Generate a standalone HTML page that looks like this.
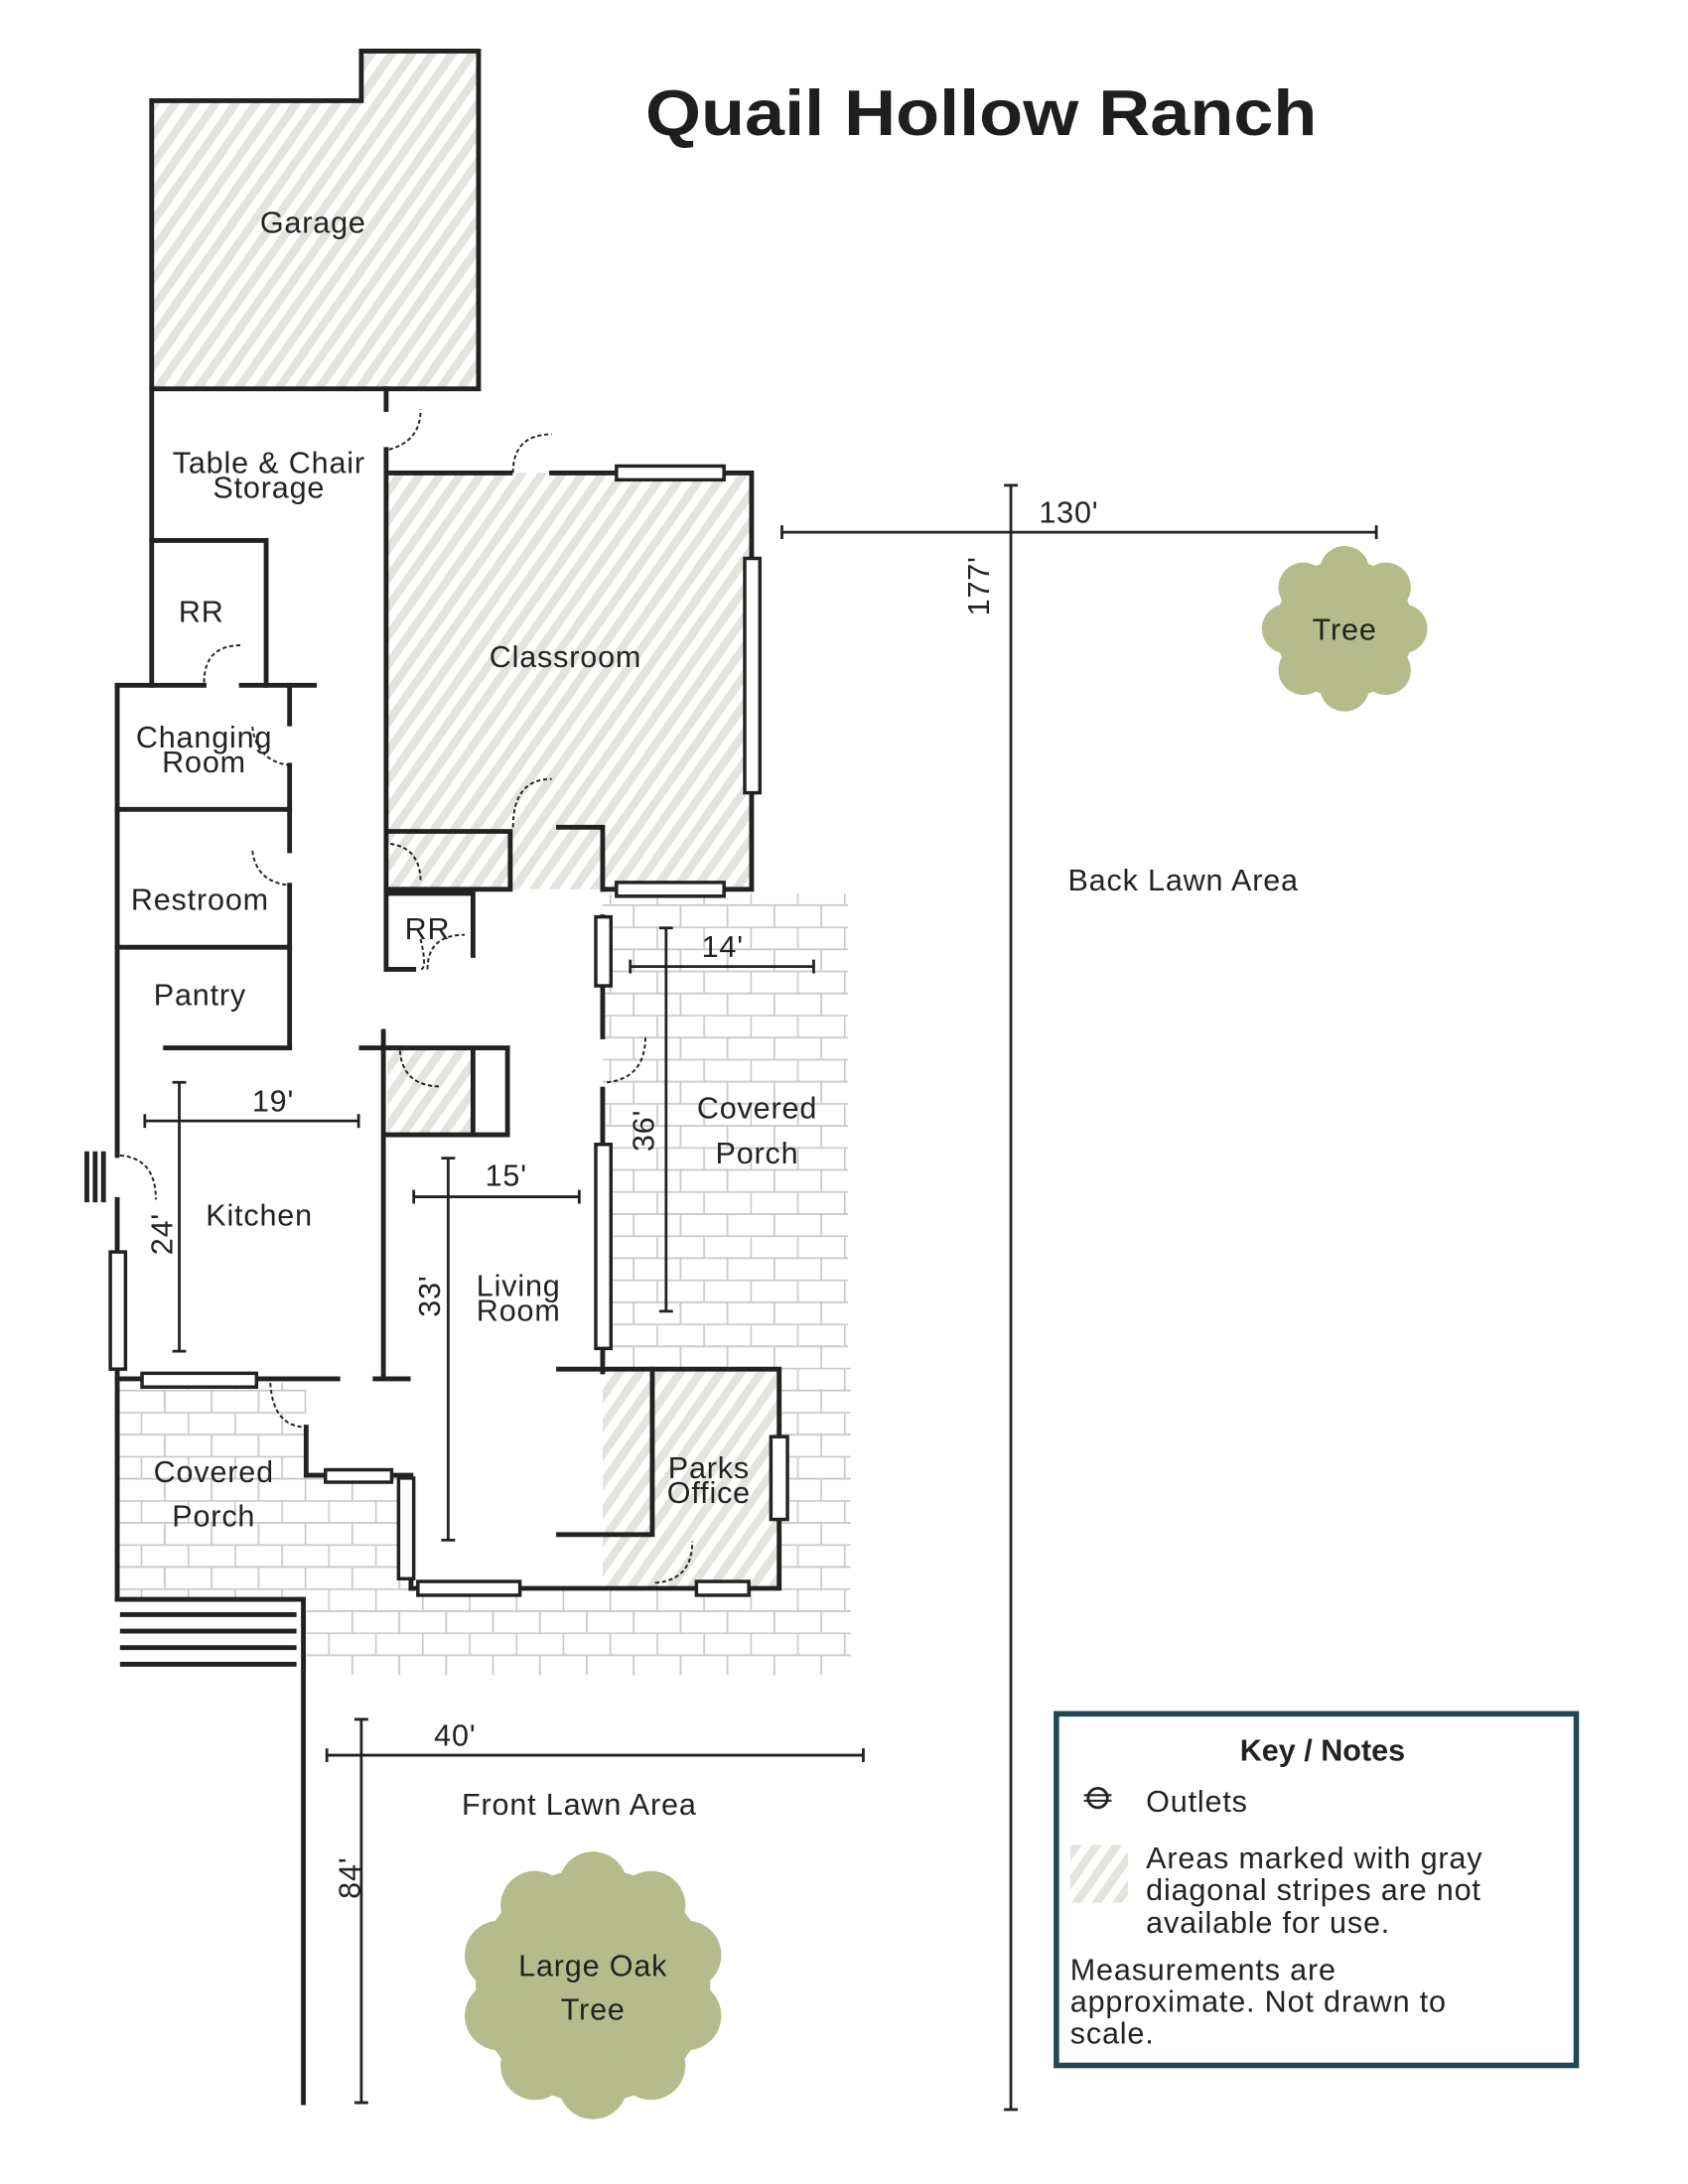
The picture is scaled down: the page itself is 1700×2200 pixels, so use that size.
<!DOCTYPE html>
<html><head><meta charset="utf-8"><style>
html,body{margin:0;padding:0;background:#fff}
svg{display:block}
text{font-family:"Liberation Sans",sans-serif;fill:#222}
</style></head><body>
<svg width="1700" height="2200" viewBox="0 0 1224 1584" xmlns="http://www.w3.org/2000/svg">
<defs>
<pattern id="h" width="12" height="12" patternUnits="userSpaceOnUse" patternTransform="rotate(35)">
<rect width="12" height="12" fill="#fff"/><rect width="6" height="12" fill="#e2e5de"/></pattern>
<pattern id="b" width="34" height="32" patternUnits="userSpaceOnUse">
<rect width="34" height="32" fill="#fff"/>
<path d="M0 0.5H34M0 16.5H34M0.5 0V16M17.5 16V32" stroke="#c9c9c9" stroke-width="1.3" fill="none"/></pattern>
</defs>

<g fill="url(#b)">
<rect x="437" y="648" width="178" height="345"/>
<rect x="565" y="990" width="52" height="225"/>
<rect x="222" y="1152" width="395" height="63"/>
<rect x="85" y="1003" width="137" height="157"/>
<rect x="222" y="1072" width="76" height="80"/>
</g>

<g fill="url(#h)">
<path d="M110 73H262V37H347V282H110Z"/>
<rect x="281" y="343" width="264" height="302"/>
<rect x="281" y="760" width="62" height="63"/>
<rect x="437" y="993" width="128" height="159"/>
<rect x="776" y="1338" width="42" height="42"/>
</g>
<rect x="405" y="603" width="32" height="42" fill="url(#h)"/>

<g stroke="#222" stroke-width="3.5" fill="none" stroke-linecap="square">
<path d="M110 73H262V37H347V282H110Z"/>
<path d="M110 282V497"/>
<path d="M280 282V297M280 326V703"/>
<path d="M281 343H370M400 343H545V645H437"/>
<path d="M281 603H370V645H281"/>
<path d="M405 600H437V645"/>
<path d="M281 648H343V693M281 703H300"/>
<path d="M110 392H193V497"/>
<path d="M85 497H148M175 497H228"/>
<path d="M85 497V838M85 870V1160"/>
<path d="M210 497V525M210 555V617M210 642V760"/>
<path d="M85 587H210M85 687H210M120 760H210"/>
<path d="M262 760H290M278 748V1000M272 1000H296M85 1000H245"/>
<path d="M281 760H368V823H281M343 760V823"/>
<path d="M437 665V752M437 790V995"/>
<path d="M405 993H565V1152H298"/>
<path d="M473 993V1113H405"/>
<path d="M222 1035V1070H298V1152"/>
<path d="M85 1160H218"/>
<path d="M220 1160V1525"/>
</g>
<g stroke="#222" stroke-width="3.5">
<path d="M87 1171H215M87 1183H215M87 1195H215M87 1207H215"/>
<path d="M63 835V872M69 835V872M75 835V872"/>
</g>

<g stroke="#222" stroke-width="2.5" fill="#fff">
<rect x="447" y="338" width="78" height="10"/>
<rect x="540" y="405" width="11" height="170"/>
<rect x="447" y="640" width="78" height="10"/>
<rect x="432" y="665" width="11" height="50"/>
<rect x="432" y="830" width="11" height="148"/>
<rect x="80" y="908" width="11" height="85"/>
<rect x="103" y="996" width="83" height="10"/>
<rect x="236" y="1066" width="48" height="9"/>
<rect x="289" y="1072" width="11" height="73"/>
<rect x="303" y="1147" width="74" height="10"/>
<rect x="505" y="1147" width="38" height="10"/>
<rect x="559" y="1042" width="12" height="60"/>
</g>

<g stroke="#222" stroke-width="1.4" fill="none" stroke-dasharray="3 2">
<path d="M282 326Q305 320 305 297"/>
<path d="M372 343Q372 315 400 315"/>
<path d="M372 600Q372 565 400 565"/>
<path d="M283 612Q305 615 305 640"/>
<path d="M148 495Q148 468 175 468"/>
<path d="M183 527Q186 552 210 555"/>
<path d="M183 617Q186 640 210 642"/>
<path d="M305 681Q310 703 305 703"/>
<path d="M310 703Q310 678 337 678"/>
<path d="M290 762Q292 788 320 788"/>
<path d="M440 785Q468 782 468 752"/>
<path d="M87 838Q113 840 113 870"/>
<path d="M196 1003Q198 1035 222 1035"/>
<path d="M475 1148Q502 1146 502 1118"/>
</g>

<g stroke="#222" stroke-width="2" fill="none">
<path d="M567 386H998M567 381V391M998 381V391"/>
<path d="M733 352V1530M728 352H738M728 1530H738"/>
<path d="M483 673V951M478 673H488M478 951H488"/>
<path d="M457 701H590M457 696V706M590 696V706"/>
<path d="M105 813H260M105 808V818M260 808V818"/>
<path d="M130 785V980M125 785H135M125 980H135"/>
<path d="M300 868H420M300 863V873M420 863V873"/>
<path d="M325 840V1117M320 840H330M320 1117H330"/>
<path d="M237 1273H626M237 1268V1278M626 1268V1278"/>
<path d="M262 1247V1525M257 1247H267M257 1525H267"/>
</g>

<g fill="#b5bb8a">
<circle cx="975" cy="456" r="50"/>
<g transform="translate(975 456)">
<circle cx="0" cy="-42" r="18"/><circle cx="30" cy="-30" r="18"/><circle cx="42" cy="0" r="18"/><circle cx="30" cy="30" r="18"/><circle cx="0" cy="42" r="18"/><circle cx="-30" cy="30" r="18"/><circle cx="-42" cy="0" r="18"/><circle cx="-30" cy="-30" r="18"/>
</g>
<circle cx="430" cy="1440" r="85"/>
<g transform="translate(430 1440)">
<circle cx="0" cy="-72" r="25"/><circle cx="42" cy="-58" r="25"/><circle cx="68" cy="-22" r="25"/><circle cx="68" cy="22" r="25"/><circle cx="42" cy="58" r="25"/><circle cx="0" cy="72" r="25"/><circle cx="-42" cy="58" r="25"/><circle cx="-68" cy="22" r="25"/><circle cx="-68" cy="-22" r="25"/><circle cx="-42" cy="-58" r="25"/>
</g>
</g>

<text x="468" y="98" textLength="487" lengthAdjust="spacingAndGlyphs" font-size="47" font-weight="bold" style="fill:#1e1e1e">Quail Hollow Ranch</text>
<g font-size="22" text-anchor="middle" letter-spacing="0.6">
<text x="227" y="169">Garage</text>
<text x="195" y="343">Table &amp; Chair</text>
<text x="195" y="361">Storage</text>
<text x="146" y="451">RR</text>
<text x="410" y="484">Classroom</text>
<text x="148" y="542">Changing</text>
<text x="148" y="560">Room</text>
<text x="145" y="660">Restroom</text>
<text x="145" y="729">Pantry</text>
<text x="310" y="681">RR</text>
<text x="549" y="811">Covered</text>
<text x="549" y="844">Porch</text>
<text x="188" y="889">Kitchen</text>
<text x="376" y="940">Living</text>
<text x="376" y="958">Room</text>
<text x="514" y="1072">Parks</text>
<text x="514" y="1090">Office</text>
<text x="155" y="1075">Covered</text>
<text x="155" y="1107">Porch</text>
<text x="858" y="646">Back Lawn Area</text>
<text x="420" y="1316">Front Lawn Area</text>
<text x="975" y="464">Tree</text>
<text x="430" y="1433">Large Oak</text>
<text x="430" y="1465">Tree</text>
<text x="775" y="379">130'</text>
<text x="524" y="694">14'</text>
<text x="198" y="806">19'</text>
<text x="367" y="860">15'</text>
<text x="330" y="1266">40'</text>
<text transform="translate(717 425) rotate(-90)">177'</text>
<text transform="translate(474 820) rotate(-90)">36'</text>
<text transform="translate(125 895) rotate(-90)">24'</text>
<text transform="translate(319 940) rotate(-90)">33'</text>
<text transform="translate(261 1362) rotate(-90)">84'</text>
</g>

<rect x="766" y="1243" width="377" height="255" fill="none" stroke="#1f4852" stroke-width="4"/>
<text x="959" y="1277" text-anchor="middle" font-size="22" font-weight="bold">Key / Notes</text>
<circle cx="796" cy="1304" r="7" fill="none" stroke="#222" stroke-width="2"/>
<path d="M786 1302H806M786 1306H806" stroke="#222" stroke-width="1.5"/>
<g font-size="22" letter-spacing="0.6">
<text x="831" y="1314">Outlets</text>
<text x="831" y="1355">Areas marked with gray</text>
<text x="831" y="1378">diagonal stripes are not</text>
<text x="831" y="1402">available for use.</text>
<text x="776" y="1436">Measurements are</text>
<text x="776" y="1459">approximate. Not drawn to</text>
<text x="776" y="1482">scale.</text>
</g>
</svg>
</body></html>
